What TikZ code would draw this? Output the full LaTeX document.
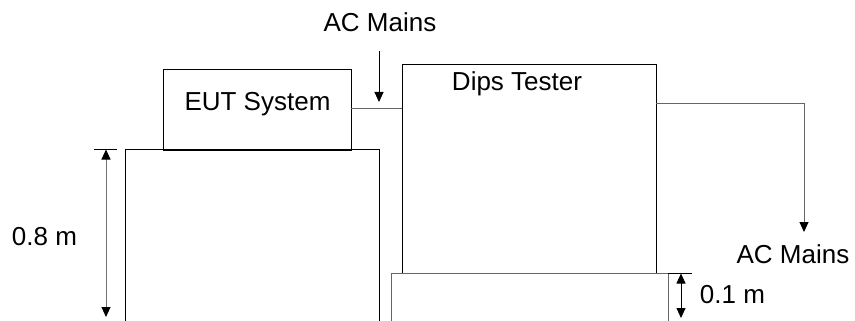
\documentclass[tikz,border=0pt]{standalone}
\usepackage{fontspec}
\setmainfont{Liberation Sans}
\usetikzlibrary{arrows.meta}
\tikzset{
  lbl/.style={inner sep=0pt, font=\fontsize{26}{30}\selectfont},
  box/.style={draw=black, line width=0.9pt, inner sep=0pt},
  wire/.style={draw=black!60, line width=0.9pt},
  edge/.style={draw=black, line width=0.9pt},
  tip/.style={-{Triangle[length=10pt,width=9pt,color=black]}},
  dim/.style={{Triangle[length=10pt,width=9pt,color=black]}-{Triangle[length=10pt,width=9pt,color=black]}, line width=0.9pt}
}
\begin{document}
\begin{tikzpicture}[x=1pt,y=-1pt]
\useasboundingbox (0,0) rectangle (855,321);
% boxes
\node[box, minimum width=188pt, minimum height=81pt] (eut) at (257,109.5) {};
\node[lbl] (euttxt) at (257.5,104) {EUT System};
\node[box, minimum width=254pt, minimum height=209pt] (dips) at (529,168.5) {};
\node[lbl] (dipstxt) at (517,84) {Dips Tester};
% labels
\node[lbl] (acin) at (380,22) {AC Mains};
\node[lbl] (acout) at (793,254) {AC Mains};
\node[lbl] (d08) at (44.5,237) {0.8 m};
\node[lbl] (d01) at (732.5,295) {0.1 m};
% coordinates
\coordinate (acintop) at (379,51);
\coordinate (acinend) at (379,102);
\coordinate (eutout) at (eut.east |- 0,108);
\coordinate (dipsin) at (dips.west |- 0,108);
\coordinate (dipsout) at (dips.east |- 0,103);
\coordinate (acturn) at (804,103);
\coordinate (acend) at (804,232);
% wires
\draw[wire] (eutout) -- (dipsin);
\draw[edge, tip] (acintop) -- (acinend);
\draw[wire, tip] (dipsout) -- (acturn) -- (acend);
% tables
\coordinate (lt1) at (125,322);
\coordinate (lt2) at (125,149);
\coordinate (lt3) at (379,149);
\coordinate (lt4) at (379,322);
\draw[edge] (lt1) -- (lt2) -- (lt3) -- (lt4);
\coordinate (rt1) at (391,322);
\coordinate (rt2) at (391,273);
\coordinate (rt3) at (668,273);
\coordinate (rt4) at (668,322);
\draw[wire] (rt1) -- (rt2) -- (rt3) -- (rt4);
% dimensions
\coordinate (t8a) at (94,149);
\coordinate (t8b) at (117,149);
\draw[edge] (t8a) -- (t8b);
\coordinate (a8a) at (106,149.5);
\coordinate (a8b) at (106,317);
\draw[dim, draw=black!55] (a8a) -- (a8b);
\coordinate (t1a) at (668,273);
\coordinate (t1b) at (692,273);
\draw[edge] (t1a) -- (t1b);
\coordinate (a1a) at (681,273.5);
\coordinate (a1b) at (681,318);
\draw[dim] (a1a) -- (a1b);
\end{tikzpicture}
\end{document}
